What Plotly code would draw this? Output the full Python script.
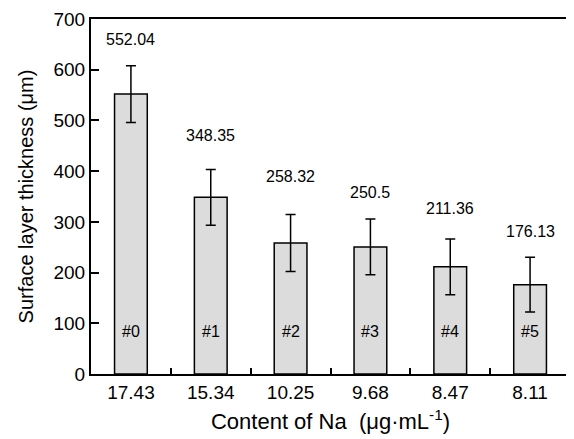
import plotly.graph_objects as go

na_content = ["17.43", "15.34", "10.25", "9.68", "8.47", "8.11"]
sample_ids = ["#0", "#1", "#2", "#3", "#4", "#5"]
thickness = [552.04, 348.35, 258.32, 250.5, 211.36, 176.13]
errors = [56, 55, 56, 55, 55, 54]
value_labels = ["552.04", "348.35", "258.32", "250.5", "211.36", "176.13"]

label_shift_px = [26, 34, 38, 27, 30, 26]

FONT = "Liberation Sans, Arial, sans-serif"

fig = go.Figure()
fig.add_trace(go.Bar(
    x=list(range(len(na_content))),
    y=thickness,
    width=0.41,
    marker=dict(color="#dcdcdc", line=dict(color="black", width=1.5)),
    error_y=dict(type="data", array=errors, visible=True, color="black",
                 thickness=1.5, width=5),
    showlegend=False,
))

for i, (v, e, lab) in enumerate(zip(thickness, errors, value_labels)):
    fig.add_annotation(x=i, y=v + e, text=lab, showarrow=False,
                       yanchor="middle", yshift=label_shift_px[i],
                       font=dict(family=FONT, size=16, color="black"))
    fig.add_annotation(x=i, y=83, text=sample_ids[i], showarrow=False,
                       yanchor="middle",
                       font=dict(family=FONT, size=16, color="black"))

fig.update_layout(
    width=566, height=431,
    margin=dict(l=83, r=4, t=11, b=65),
    plot_bgcolor="white", paper_bgcolor="white",
    font=dict(family=FONT, size=19, color="black"),
)
fig.update_xaxes(
    range=[-0.5, 5.5], automargin=False,
    tickmode="array", tickvals=list(range(len(na_content))), ticktext=na_content,
    showline=True, linecolor="black", linewidth=2, mirror=True,
    ticks="", showgrid=False, zeroline=False,
    title=dict(text="Content of Na\u00a0\u00a0(\u03bcg\u00b7mL<sup>-1</sup>)",
               font=dict(family=FONT, size=22), standoff=12),
)
# boundary ticks between categories, drawn via minor ticks
fig.update_xaxes(minor=dict(tickmode="array", tickvals=[0.5, 1.5, 2.5, 3.5, 4.5],
                            ticks="inside", ticklen=6, tickwidth=1.5, tickcolor="black"))
fig.update_yaxes(
    range=[0, 700], dtick=100, tick0=0, automargin=False,
    showline=True, linecolor="black", linewidth=2, mirror=True,
    ticks="inside", ticklen=8, tickwidth=1.5, tickcolor="black",
    showgrid=False, zeroline=False,
    title=dict(text="Surface layer thickness (\u03bcm)",
               font=dict(family=FONT, size=20), standoff=14),
)

fig.write_html("out.html")
